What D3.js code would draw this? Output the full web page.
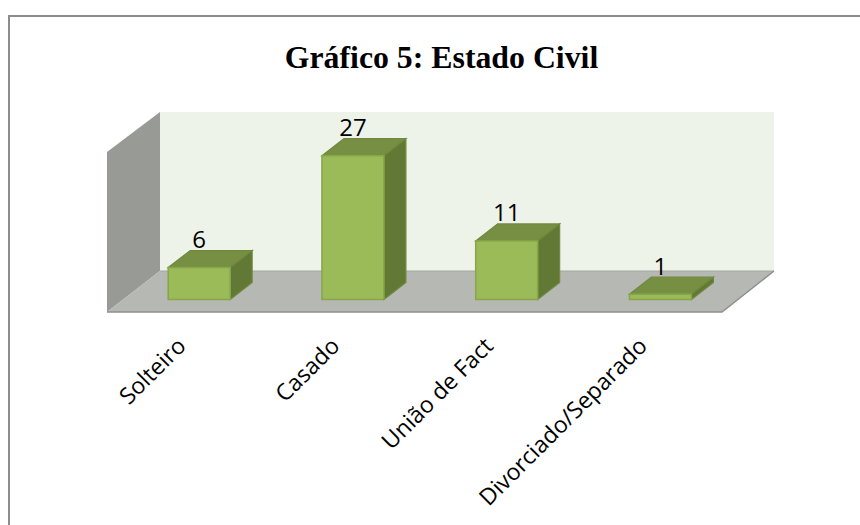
<!DOCTYPE html>
<html><head><meta charset="utf-8">
<script src="https://cdn.jsdelivr.net/npm/d3@7/dist/d3.min.js"></script>
<style>html,body{margin:0;padding:0;background:#fff}svg{display:block}</style>
</head><body><svg id="c" width="860" height="525"></svg>
<script>
const categories = ["Solteiro","Casado","União de Fact","Divorciado/Separado"];
const values = [6,27,11,1];
const titleText = "Gráfico 5: Estado Civil";

const svg = d3.select("#c");
const dx = 22, dy = -17;
const x = d3.scaleBand().domain(categories).range([122.3,737.3]).paddingInner(0.597).paddingOuter(0.2985);
const y = d3.scaleLinear().domain([0,27]).range([299.5,155.7]);
const line = d3.line();

svg.append("path").attr("d",line([[9,525],[9,16],[860,16]])).attr("fill","none").attr("stroke","#8c8c8c").attr("stroke-width",2);

svg.append("text").attr("x",441.5).attr("y",68).attr("text-anchor","middle")
  .attr("font-family","Liberation Serif").attr("font-weight","bold").attr("font-size",31.8).attr("fill","#000").text(titleText);

// walls and floor
svg.append("path").attr("d",line([[160,112],[774,112],[774,271],[160,271]])+"Z").attr("fill","#eef3ea");
svg.append("path").attr("d",line([[107,152],[160,112],[160,271],[107,312]])+"Z").attr("fill","#989a96");
svg.append("path").attr("d",line([[107,312],[160,271],[774,271],[722,312]])+"Z").attr("fill","#b6b8b4");
svg.append("path").attr("d",line([[160,271],[774,271]])).attr("fill","none").attr("stroke","#a4a6a2").attr("stroke-width",1);
svg.append("path").attr("d",line([[107,312],[722,312],[774,271]])).attr("fill","none").attr("stroke","#8e908c").attr("stroke-width",1.5);

const g = svg.append("g").selectAll("g").data(categories.map((c,i)=>({c,v:values[i]}))).join("g");
const edge = "#86a648";
g.append("path").attr("d",d=>{const a=x(d.c),b=a+x.bandwidth(),t=y(d.v);
  return line([[a,t],[a+dx,t+dy],[b+dx,t+dy],[b,t]])+"Z";}).attr("fill","#768f43").attr("stroke","#6f8a3e").attr("stroke-width",1.2);
g.append("path").attr("d",d=>{const b=x(d.c)+x.bandwidth(),t=y(d.v),z=y(0);
  return line([[b,t],[b+dx,t+dy],[b+dx,z+dy],[b,z]])+"Z";}).attr("fill","#627835").attr("stroke","#6f8a3e").attr("stroke-width",1.2);
g.append("rect").attr("x",d=>x(d.c)).attr("y",d=>y(d.v)).attr("width",x.bandwidth()).attr("height",d=>y(0)-y(d.v))
  .attr("fill","#9bbb59").attr("stroke",edge).attr("stroke-width",1.5);

g.append("text").attr("x",d=>x(d.c)+x.bandwidth()/2).attr("y",d=>y(d.v)+dy-2.5)
  .attr("text-anchor","middle")
  .attr("font-family","Open Sans").attr("font-size",24).attr("fill","#000").text(d=>d.v);

g.append("text").attr("text-anchor","end").attr("font-family","Open Sans").attr("font-size",23).attr("fill","#000")
  .attr("transform",d=>`translate(${x(d.c)+x.bandwidth()/2-12},${347.5}) rotate(-45)`).text(d=>d.c);
</script></body></html>
